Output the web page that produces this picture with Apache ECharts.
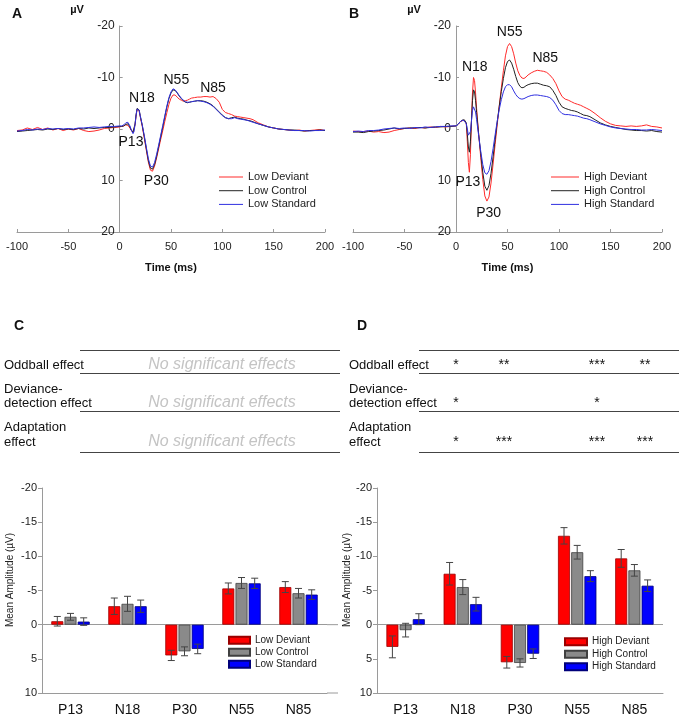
<!DOCTYPE html>
<html><head><meta charset="utf-8">
<script src="https://cdn.jsdelivr.net/npm/echarts@6/dist/echarts.min.js"></script>
<style>html,body{margin:0;padding:0;background:#fff;}#c1,#c2{position:absolute;left:0;top:0;width:682px;height:720px;}</style>
</head><body>
<div id="c2"></div><div id="c1"></div>
<script>
// ---------- DATA ----------
const times = [-100,-95,-90,-85,-80,-75,-70,-65,-60,-55,-50,-45,-40,-35,-30,-25,-20,-15,-10,-5,0,
  2,4,6,8,10,
  11,12,13,14,15,16,17,18,19,20,
  22,24,26,28,30,32,34,36,38,40,42,44,46,48,50,52,54,56,58,60,62,64,66,68,70,
  73,76,79,82,85,88,91,94,97,100,103,106,109,112,115,118,121,124,127,130,
  135,140,145,150,155,160,165,170,175,180,185,190,195,200];

const lowDeviant = [0.3,0.2,-0.2,0.1,-0.3,0.1,-0.2,0.2,-0.1,0.3,0,0.2,-0.1,0.3,0.5,0.4,0.2,-0.1,-0.2,-0.3,-0.4,
  -0.5,-0.6,-0.8,-0.7,-0.2,
  0.2,0.5,0.7,0.4,-0.8,-2.5,-3.8,-4.0,-3.4,-2.4,
  -0.5,1.8,4.2,6.5,8.0,8.2,7.2,5.6,3.8,2.0,0.3,-1.5,-3.2,-4.8,-6.0,-6.6,-6.6,-6.2,-5.8,-5.6,-5.4,-5.5,-5.6,-5.8,-6.0,
  -6.1,-6.2,-6.2,-6.3,-6.3,-6.2,-6.3,-5.9,-5.2,-3.8,-3.2,-3.0,-2.8,-2.5,-2.4,-2.3,-2.2,-2.1,-2.0,-1.8,
  -1.2,-0.8,-0.4,-0.2,0.0,0.1,0.2,0.3,0.2,0.4,0.3,0.2,0.1,0.3];
const lowControl = [0.5,0.4,0.3,0.2,0.1,0.2,0.0,0.1,-0.1,0.1,0.0,0.1,-0.1,0.0,-0.2,-0.1,-0.2,-0.3,-0.3,-0.4,-0.5,
  -0.5,-0.6,-0.9,-1.0,-0.4,
  0.1,0.4,0.6,0.3,-1.0,-2.8,-4.0,-4.3,-3.7,-2.6,
  -0.7,1.5,3.9,6.2,7.6,7.8,6.9,5.3,3.4,1.5,-0.4,-2.4,-4.3,-5.9,-7.0,-7.6,-7.5,-7.0,-6.4,-5.9,-5.5,-5.2,-5.1,-5.2,-5.3,
  -5.4,-5.5,-5.5,-5.4,-5.2,-4.9,-4.5,-3.9,-3.3,-2.7,-2.2,-2.0,-2.2,-2.3,-2.1,-2.0,-1.9,-1.7,-1.6,-1.4,
  -1.0,-0.7,-0.4,-0.2,0.0,0.1,0.2,0.2,0.3,0.4,0.3,0.3,0.2,0.3];
const lowStandard = [0.4,0.3,0.1,0.2,0.0,0.1,-0.1,0.0,-0.1,0.0,-0.1,0.0,-0.2,-0.2,-0.3,-0.4,-0.3,-0.4,-0.5,-0.5,-0.6,
  -0.6,-0.8,-1.2,-1.3,-0.6,
  0.0,0.5,0.9,0.5,-0.9,-2.7,-3.9,-4.2,-3.6,-2.6,
  -0.8,1.3,3.6,5.8,7.2,7.4,6.5,4.9,3.1,1.2,-0.7,-2.6,-4.5,-6.1,-7.2,-7.8,-7.6,-7.1,-6.5,-6.0,-5.6,-5.3,-5.2,-5.2,-5.3,
  -5.4,-5.5,-5.4,-5.3,-5.1,-4.8,-4.4,-3.8,-3.2,-2.6,-2.2,-2.0,-2.0,-2.2,-2.0,-1.9,-1.8,-1.7,-1.5,-1.3,
  -1.0,-0.7,-0.4,-0.2,0.0,0.1,0.2,0.3,0.3,0.3,0.4,0.3,0.3,0.2];

const highDeviant = [0.4,0.5,0.5,0.4,0.6,0.5,0.7,0.6,0.3,0.1,-0.1,-0.2,-0.1,-0.3,-0.2,-0.4,-0.3,-0.5,-0.4,-0.5,-0.6,
  -0.9,-1.4,-1.6,-1.7,-1.0,
  2.5,6.5,8.4,5.0,-1.5,-7.0,-10.0,-9.4,-7.0,-4.0,
  1.0,5.5,9.8,13.0,14.0,13.2,10.5,6.8,3.0,-0.8,-4.5,-8.0,-11.3,-14.2,-16.0,-16.6,-16.0,-14.6,-12.8,-11.3,-10.4,-9.9,-9.8,-10.1,-10.5,
  -10.9,-11.2,-11.4,-11.3,-11.2,-11.0,-10.5,-9.8,-8.8,-7.4,-6.3,-5.8,-5.6,-5.3,-5.0,-4.8,-4.6,-4.3,-4.0,-3.7,
  -3.0,-2.2,-1.5,-1.0,-0.7,-0.6,-0.5,-0.6,-0.5,-0.6,-0.8,-0.5,-0.4,-0.2];
const highControl = [0.6,0.6,0.7,0.5,0.4,0.3,0.2,0.0,-0.2,0.0,-0.1,-0.2,-0.2,-0.3,-0.2,-0.3,-0.4,-0.4,-0.5,-0.5,-0.6,
  -0.9,-1.4,-1.7,-1.8,-1.2,
  1.0,3.5,4.5,2.5,-1.5,-5.5,-7.6,-7.2,-5.5,-3.2,
  1.0,4.8,8.4,11.1,11.9,11.0,8.6,5.4,2.0,-1.3,-4.4,-7.3,-9.8,-11.9,-13.1,-13.4,-12.8,-11.6,-10.2,-9.0,-8.3,-8.0,-8.1,-8.4,-8.6,
  -8.8,-8.9,-8.9,-8.7,-8.5,-8.4,-8.2,-7.5,-6.5,-5.2,-4.3,-4.0,-3.8,-3.6,-3.5,-3.3,-3.0,-2.7,-2.6,-2.4,
  -1.8,-1.2,-0.8,-0.5,-0.3,-0.1,0.1,0.2,0.3,0.3,0.4,0.3,0.5,0.6];
const highStandard = [0.5,0.4,0.5,0.3,0.3,0.2,0.0,-0.1,-0.2,-0.1,-0.2,-0.1,-0.3,-0.2,-0.4,-0.3,-0.4,-0.5,-0.5,-0.6,-0.6,
  -0.9,-1.4,-1.7,-1.6,-1.0,
  0.0,1.2,1.4,0.5,-1.5,-3.6,-4.3,-4.2,-3.3,-1.8,
  1.3,4.3,6.9,8.5,8.8,8.1,6.3,3.8,1.1,-1.5,-3.8,-5.7,-7.2,-8.2,-8.6,-8.6,-8.2,-7.4,-6.7,-6.2,-5.9,-5.8,-5.9,-6.1,-6.3,
  -6.5,-6.6,-6.6,-6.5,-6.4,-6.3,-6.1,-5.6,-4.7,-3.6,-3.0,-2.8,-2.8,-2.7,-2.6,-2.5,-2.3,-2.1,-2.0,-1.8,
  -1.4,-1.0,-0.7,-0.4,-0.2,-0.1,0.0,0.1,0.1,0.2,0.2,0.1,0.2,0.3];

// peak annotations (label, [ms, µV])
const peakNames = ['P13','N18','P30','N55','N85'];
const peakPosLow = [[11.0,2.5],[21.7,-6.0],[35.7,10.2],[55.2,-9.5],[90.9,-8.0]];
const peakPosHigh = [[11.5,10.4],[18.2,-12.1],[31.7,16.4],[52.1,-18.8],[86.7,-13.7]];

// bar chart data
const components = ['P13','N18','P30','N55','N85'];
const lowDevMean = [-0.5,-2.7,4.5,-5.3,-5.5];
const lowDevErr  = [0.7,1.2,0.75,0.8,0.8];
const lowCtlMean = [-1.15,-3.05,3.9,-6.1,-4.6];
const lowCtlErr  = [0.5,1.1,0.65,0.8,0.7];
const lowStdMean = [-0.45,-2.7,3.55,-6.05,-4.4];
const lowStdErr  = [0.55,0.9,0.7,0.75,0.7];
const highDevMean = [3.25,-7.45,5.5,-13.0,-9.7];
const highDevErr  = [1.6,1.65,0.85,1.2,1.3];
const highCtlMean = [0.8,-5.5,5.6,-10.6,-7.95];
const highCtlErr  = [1.0,1.1,0.6,1.0,0.85];
const highStdMean = [-0.8,-3.0,4.25,-7.1,-5.7];
const highStdErr  = [0.8,1.0,0.7,0.8,0.85];

const rowLabels = [['Oddball effect'],['Deviance-','detection effect'],['Adaptation','effect']];
const noSigText = 'No significant effects';
const sigOddball = ['*','**','***','**'];
const sigDeviance = ['*','','*',''];
const sigAdaptation = ['*','***','***','***'];

// ---------- STYLE ----------
const FONT = "'Liberation Sans', Arial, sans-serif";
const C_DEV = '#ff2a2a', C_CTL = '#222222', C_STD = '#2f2fe0';
const AX = '#9a9a9a';

// ---------- TOP CHART ----------
const c1 = echarts.init(document.getElementById('c1'), null, {renderer:'canvas'});
const gridA = {left:17, top:26, width:308, height:206};
const gridB = {left:353, top:26, width:309, height:206};
const X_MIN = -100, X_MAX = 200;
function lineSeries(name, vals, color, gi, peaks){
  const s = {name, type:'line', xAxisIndex:gi, yAxisIndex:gi, symbol:'none', showSymbol:false,
    lineStyle:{color, width:1}, itemStyle:{color}, animation:false,
    data: times.map((t,i)=>[t, vals[i]])};
  if (peaks) {
    s.markPoint = {symbol:'rect', symbolSize:1, itemStyle:{color:'rgba(0,0,0,0)'}, silent:true,
      label:{show:true, position:'inside', formatter:'{b}', fontSize:14, color:'#111', fontFamily:FONT},
      data: peakNames.map((n,i)=>({name:n, coord:peaks[i]}))};
  }
  return s;
}
const topX = gi => ({type:'value', gridIndex:gi, min:X_MIN, max:X_MAX, interval:50,
  axisLine:{onZero:false, lineStyle:{color:AX}}, axisTick:{inside:true, length:3, lineStyle:{color:AX}},
  axisLabel:{fontSize:11, color:'#222', margin:9}, splitLine:{show:false},
  name:'Time (ms)', nameLocation:'middle', nameGap:30, nameTextStyle:{fontWeight:'bold', fontSize:11, color:'#111'}});
// y axis sits at t = 0 ms: shift it right from the grid's left edge by the width of the pre-stimulus span
const topY = (gi, grid) => ({type:'value', gridIndex:gi, min:-20, max:20, interval:10, inverse:true,
  offset: -grid.width * (0 - X_MIN) / (X_MAX - X_MIN),
  axisLine:{show:true, onZero:false, lineStyle:{color:AX}}, axisTick:{show:true, inside:true, length:3, lineStyle:{color:AX}},
  axisLabel:{fontSize:12, color:'#222', margin:5}, splitLine:{show:false}});
const topLegend = (names, left, w) => ({orient:'vertical', left, top:171.5, padding:0, itemWidth:w, itemHeight:1, itemGap:2.7,
  data:names.map(n=>({name:n, icon:'rect'})), textStyle:{fontSize:11, color:'#222', fontFamily:FONT, lineHeight:11}, selectedMode:false});
c1.setOption({
  animation:false,
  textStyle:{fontFamily:FONT},
  grid:[gridA, gridB],
  xAxis:[topX(0), topX(1)],
  yAxis:[topY(0, gridA), topY(1, gridB)],
  legend:[topLegend(['Low Deviant','Low Control','Low Standard'], 219, 24),
          topLegend(['High Deviant','High Control','High Standard'], 551, 28)],
  graphic:[
    {type:'text', x:12, y:14, style:{text:'A', fontSize:14, fontWeight:'bold', fontFamily:FONT, fill:'#111', verticalAlign:'middle'}},
    {type:'text', x:349, y:14, style:{text:'B', fontSize:14, fontWeight:'bold', fontFamily:FONT, fill:'#111', verticalAlign:'middle'}},
    {type:'text', x:77, y:10, style:{text:'µV', fontSize:11, fontWeight:'bold', fontFamily:FONT, fill:'#111', align:'center', verticalAlign:'middle'}},
    {type:'text', x:414, y:10, style:{text:'µV', fontSize:11, fontWeight:'bold', fontFamily:FONT, fill:'#111', align:'center', verticalAlign:'middle'}}
  ],
  series:[
    lineSeries('Low Deviant', lowDeviant, C_DEV, 0),
    lineSeries('Low Control', lowControl, C_CTL, 0, peakPosLow),
    lineSeries('Low Standard', lowStandard, C_STD, 0),
    lineSeries('High Deviant', highDeviant, C_DEV, 1),
    lineSeries('High Control', highControl, C_CTL, 1, peakPosHigh),
    lineSeries('High Standard', highStandard, C_STD, 1)
  ]
});

// ---------- BOTTOM CHART ----------
const c2 = echarts.init(document.getElementById('c2'), null, {renderer:'canvas'});
const gridC = {left:42, top:488, width:285, height:205};
const gridD = {left:377, top:488, width:286, height:205};
const BAR_W = 12, BAR_STEP = 13.2;
const barFill = [['#ff0000','#9a0000'],['#8a8a8a','#404040'],['#0000ff','#00007a']];
function barSeries(name, vals, k, gi, withZero){
  const s = {name, type:'bar', xAxisIndex:gi, yAxisIndex:gi, barWidth:BAR_W, barGap:'10%',
    itemStyle:{color:barFill[k][0], borderColor:barFill[k][1], borderWidth:0.8}, data:vals, z:2};
  if (withZero) s.markLine = {silent:true, symbol:['none','none'], label:{show:false},
    lineStyle:{color:AX, type:'solid', width:1}, data:[{yAxis:0}], z:1};
  return s;
}
function errSeries(means, errs, k, gi){
  const off = (k-1)*BAR_STEP;
  return {type:'custom', name:'err'+gi+k, xAxisIndex:gi, yAxisIndex:gi, z:5, silent:true,
    data: means.map((m,i)=>[i, m, errs[i]]),
    encode:{x:0, y:1},
    renderItem:(params, api)=>{
      const i = api.value(0), m = api.value(1), e = api.value(2);
      const a = api.coord([i, m-e]), b = api.coord([i, m+e]);
      const x = a[0] + off, st = {stroke:'#444', lineWidth:1};
      return {type:'group', children:[
        {type:'line', shape:{x1:x, y1:a[1], x2:x, y2:b[1]}, style:st},
        {type:'line', shape:{x1:x-3.5, y1:a[1], x2:x+3.5, y2:a[1]}, style:st},
        {type:'line', shape:{x1:x-3.5, y1:b[1], x2:x+3.5, y2:b[1]}, style:st}
      ]};
    }};
}
const botX = gi => ({type:'category', gridIndex:gi, data:components,
  axisLine:{onZero:false, lineStyle:{color:AX}}, axisTick:{alignWithLabel:true, length:3, lineStyle:{color:AX}},
  axisLabel:{fontSize:14, color:'#111', margin:10}, splitLine:{show:false}});
const botY = gi => ({type:'value', gridIndex:gi, min:-20, max:10, interval:5, inverse:true,
  axisLine:{show:true, onZero:false, lineStyle:{color:AX}}, axisTick:{show:true, length:4, lineStyle:{color:AX}},
  axisLabel:{fontSize:11, color:'#222', margin:5}, splitLine:{show:false}});
const botLegend = (names, left, top, w, gap) => ({orient:'vertical', left, top, padding:0, itemWidth:w, itemHeight:7, itemGap:gap,
  icon:'rect', data:names, textStyle:{fontSize:10, color:'#222', fontFamily:FONT}, selectedMode:false});

// table graphics
const g = [];
const txt = (x, y, text, extra) => g.push({type:'text', x, y, style:Object.assign({text, fontSize:13, fontFamily:FONT, fill:'#111', verticalAlign:'middle'}, extra||{})});
const hline = (x1, x2, y) => g.push({type:'line', shape:{x1, y1:y, x2, y2:y}, style:{stroke:'#444', lineWidth:1}});
txt(14, 326, 'C', {fontSize:14, fontWeight:'bold'});
txt(357, 326, 'D', {fontSize:14, fontWeight:'bold'});
const lineYs = [350.5, 373.5, 411.5, 452.5];
lineYs.forEach(y => { hline(80, 340, y); hline(419, 679, y); });
const rowY = [365, 403, 442];
const rowLabelY = [[365],[389,403],[427,442]];
rowLabels.forEach((lines, r) => lines.forEach((s, j) => { txt(4, rowLabelY[r][j], s); txt(349, rowLabelY[r][j], s); }));
rowY.forEach(y => txt(222, y, noSigText, {fontSize:16, fontStyle:'italic', fill:'#c4c4c4', align:'center'}));
const starX = [456, 504, 597, 645];
[sigOddball, sigDeviance, sigAdaptation].forEach((row, r) => row.forEach((s, j) => { if (s) txt(starX[j], rowY[r], s, {fontSize:14, align:'center'}); }));
txt(10, 580, 'Mean Amplitude (µV)', {fontSize:10, align:'center', fill:'#222'});
g[g.length-1].rotation = Math.PI/2;
txt(347, 580, 'Mean Amplitude (µV)', {fontSize:10, align:'center', fill:'#222'});
g[g.length-1].rotation = Math.PI/2;

c2.setOption({
  animation:false,
  textStyle:{fontFamily:FONT},
  grid:[gridC, gridD],
  xAxis:[botX(0), botX(1)],
  yAxis:[botY(0), botY(1)],
  legend:[botLegend(['Low Deviant','Low Control','Low Standard'], 228, 635.3, 21, 2),
          botLegend(['High Deviant','High Control','High Standard'], 564, 636.7, 22, 2.5)],
  graphic:g,
  series:[
    barSeries('Low Deviant', lowDevMean, 0, 0, true),
    barSeries('Low Control', lowCtlMean, 1, 0),
    barSeries('Low Standard', lowStdMean, 2, 0),
    errSeries(lowDevMean, lowDevErr, 0, 0),
    errSeries(lowCtlMean, lowCtlErr, 1, 0),
    errSeries(lowStdMean, lowStdErr, 2, 0),
    barSeries('High Deviant', highDevMean, 0, 1, true),
    barSeries('High Control', highCtlMean, 1, 1),
    barSeries('High Standard', highStdMean, 2, 1),
    errSeries(highDevMean, highDevErr, 0, 1),
    errSeries(highCtlMean, highCtlErr, 1, 1),
    errSeries(highStdMean, highStdErr, 2, 1)
  ]
});
// extend panel C's axis line and zero line slightly past the last category, as in the reference
const yZero = c2.convertToPixel({yAxisIndex:0}, 0);
const yBot = c2.convertToPixel({yAxisIndex:0}, 10);
const xr = gridC.left + gridC.width;
g.push({type:'line', shape:{x1:xr, y1:yZero, x2:xr+11, y2:yZero}, style:{stroke:AX, lineWidth:1}});
g.push({type:'line', shape:{x1:xr, y1:yBot, x2:xr+11, y2:yBot}, style:{stroke:AX, lineWidth:1}});
c2.setOption({graphic:g});
</script>
</body></html>
